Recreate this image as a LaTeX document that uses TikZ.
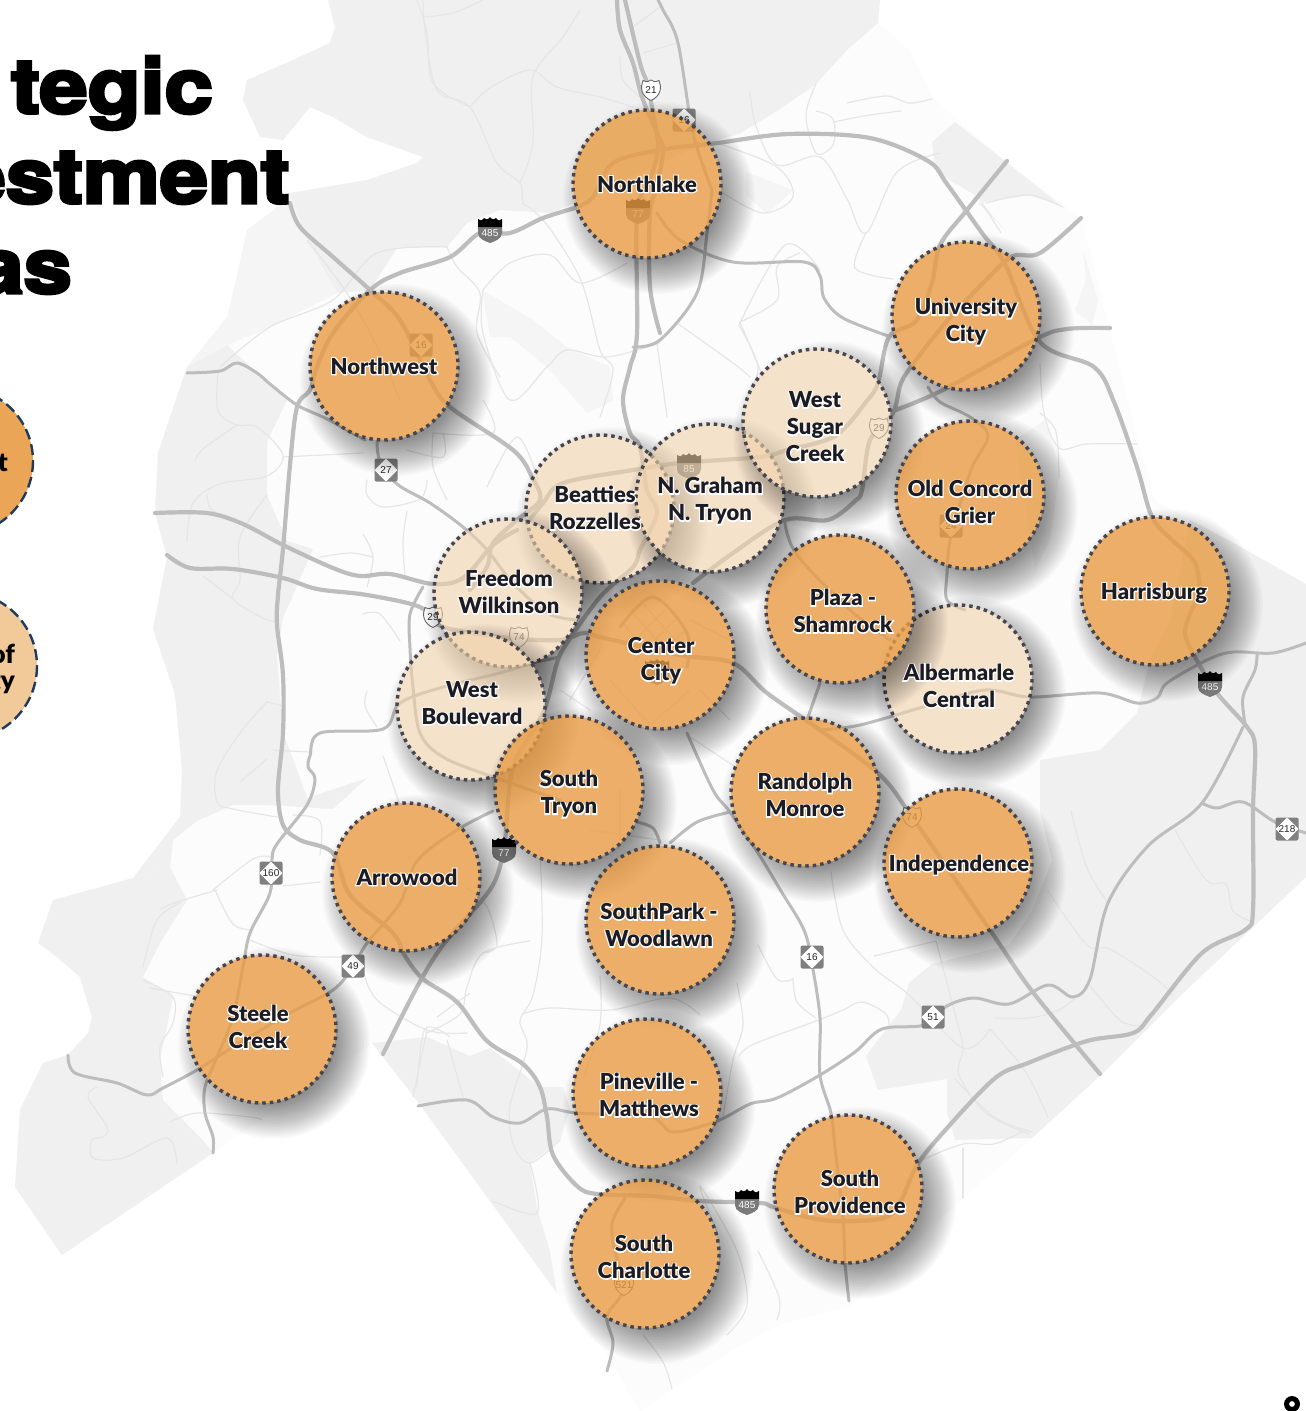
\documentclass[tikz,border=0pt]{standalone}
\usepackage{fontspec}
\setmainfont{Liberation Sans}
\newfontfamily\halofont{Lato Black}[FakeBold=10]
\newfontfamily\labbold{Lato Black}
\newfontfamily\titlefont{TeX Gyre Heros}[UprightFont=* Bold,FakeBold=4.5,FakeStretch=1.14]
\newfontfamily\shieldfont{Liberation Sans}
\definecolor{countyfill}{HTML}{FCFCFC}
\definecolor{graya}{HTML}{F0F0F0}
\definecolor{grayb}{HTML}{F5F5F5}
\definecolor{roadmajor}{HTML}{BDBDBD}
\definecolor{roadminor}{HTML}{E6E6E6}
\definecolor{orangefill}{HTML}{E89B43}
\definecolor{palefill}{HTML}{F0D1AA}
\definecolor{dotcol}{HTML}{45454F}
\definecolor{navy}{HTML}{1E3A5F}
\definecolor{labcol}{HTML}{1C1C24}
\tikzset{
  major/.style={draw=roadmajor,line width=4.2pt,line cap=round,line join=round},
  medium/.style={draw=roadmajor,line width=3pt,line cap=round,line join=round},
  minor/.style={draw=roadminor,line width=1.2pt,line cap=round,line join=round},
  grayarea/.style={fill=graya,draw=none},
  lightarea/.style={fill=grayb,draw=none},
  solidarea/.style={fill=orangefill,fill opacity=.8},
  palearea/.style={fill=palefill,fill opacity=.6},
  dotring/.style={draw=dotcol,line width=3.4pt,dash pattern=on 3.5pt off 4pt},
  halolab/.style={align=center,text=white,inner sep=0pt,font=\halofont\fontsize{22}{27}\selectfont},
  toplab/.style={align=center,text=labcol,inner sep=0pt,font=\labbold\fontsize{22}{27}\selectfont},
  titletext/.style={text=black,inner sep=0pt,anchor=base east,font=\titlefont\fontsize{76}{76}\selectfont},
  shieldtext/.style={inner sep=0pt,font=\shieldfont\fontsize{10}{10}\selectfont}
}
\newcommand\rmaj[1]{\draw[major] plot[smooth,tension=.55] coordinates {#1};}
\newcommand\rmed[1]{\draw[medium] plot[smooth,tension=.55] coordinates {#1};}
\newcommand\rmin[1]{\draw[minor] plot[smooth,tension=.55] coordinates {#1};}
% interstate shield: name,x,y,number
\newcommand\ishield[4]{\begin{scope}[shift={(#2,#3)}]
  \fill[fill=black!52] (-12,-3) -- (12,-3) -- (12,3) .. controls (12,9) and (5,11) .. (0,13) .. controls (-5,11) and (-12,9) .. (-12,3) -- cycle;
  \fill[black] (-12,-3) -- (-12,-11) .. controls (-10,-9) and (-8,-9) .. (-6,-12) .. controls (-5,-10) and (-2,-10) .. (0,-13) .. controls (2,-10) and (5,-10) .. (6,-12) .. controls (8,-9) and (10,-9) .. (12,-11) -- (12,-3) -- cycle;
  \node[shieldtext,text=white] (#1) at (0,3) {#4};
\end{scope}}
% state diamond shield
\newcommand\nshield[4]{\begin{scope}[shift={(#2,#3)}]
  \fill[fill=black!50,rounded corners=2pt] (-11.5,-11.5) rectangle (11.5,11.5);
  \fill[white,rounded corners=1pt] (0,-11.5) -- (11.5,0) -- (0,11.5) -- (-11.5,0) -- cycle;
  \node[shieldtext,text=black!85] (#1) at (0,0) {#4};
\end{scope}}
% US shield
\newcommand\ushield[4]{\begin{scope}[shift={(#2,#3)}]
  \filldraw[fill=white,draw=black!60,line width=.9pt] (-8,-9.5) .. controls (-4,-7.5) and (-2,-8.5) .. (0,-10) .. controls (2,-8.5) and (4,-7.5) .. (8,-9.5) .. controls (11,-3) and (10,6) .. (0,10.5) .. controls (-10,6) and (-11,-3) .. (-8,-9.5) -- cycle;
  \node[shieldtext,text=black!85] (#1) at (0,0) {#4};
\end{scope}}
% area circle with shadow: name,x,y,style
\newcommand\areacircle[4]{
  \begin{scope}[even odd rule]
    \clip (-200,-200) rectangle (1500,1600) (#2,#3) circle (74);
    \foreach \k in {0,...,25} {
      \fill[black,fill opacity=.02,nonzero rule] ({#2+12},{#3+14}) circle ({96-1.5*\k});
    }
  \end{scope}
  \fill[#4] (#2,#3) circle (74);
  \draw[dotring] (#2,#3) circle (74);
  \coordinate (#1) at (#2,#3);
}
\newcommand\arealabel[4]{
  \node[halolab] (#1h) at (#2,#3) {#4};
  \node[toplab] (#1t) at (#2,#3) {#4};
}
\begin{document}
\begin{tikzpicture}[x=1pt,y=-1pt]
\useasboundingbox (0,0) rectangle (1306,1411);
\begin{scope}
\clip (0,0) rectangle (1306,1411);
\fill[white] (0,0) rectangle (1306,1411);
% county
\fill[countyfill] (328,0) -- (880,0) -- (878,23) -- (909,50) -- (932,97) -- (1005,161) -- (1081,218) -- (1110,332) -- (1154,500) -- (1230,541) -- (1306,584) -- (1306,877) -- (1179,997) -- (1102,1074) -- (1032,1138) -- (947,1213) -- (849,1306) -- (777,1325) -- (730,1352) -- (670,1390) -- (640,1411) -- (607,1354) -- (557,1293) -- (490,1201) -- (415,1098) -- (372,1043) -- (213,1153) -- (62,1255) -- (15,1187) -- (20,1110) -- (43,1063) -- (68,1055) -- (88,1033) -- (92,1017) -- (80,977) -- (57,957) -- (38,943) -- (47,917) -- (53,900) -- (133,878) -- (180,817) -- (182,771) -- (175,694) -- (153,629) -- (167,557) -- (155,513) -- (158,453) -- (187,367) -- (227,317) -- (233,293) -- (247,230) -- (270,213) -- (290,193) -- (367,180) -- (417,163) -- (423,157) -- (367,137) -- (333,117) -- (310,107) -- (283,140) -- (260,137) -- (243,100) -- (247,80) -- (293,60) -- (330,43) -- (335,27) -- cycle;
% north lake-side gray
\fill[grayarea] (328,0) -- (880,0) -- (878,23) -- (847,50) -- (816,84) -- (777,111) -- (739,134) -- (700,145) -- (570,205) -- (550,213) -- (500,210) -- (467,223) -- (447,247) -- (397,248) -- (370,290) -- (337,293) -- (307,240) -- (293,203) -- (290,193) -- (367,180) -- (417,163) -- (423,157) -- (367,137) -- (333,117) -- (310,107) -- (283,140) -- (260,137) -- (243,100) -- (247,80) -- (293,60) -- (330,43) -- (335,27) -- cycle;
% west gray
\fill[grayarea] (187,367) -- (227,345) -- (287,400) -- (267,442) -- (267,495) -- (287,541) -- (313,549) -- (283,618) -- (277,656) -- (283,733) -- (293,759) -- (307,798) -- (367,778) -- (333,809) -- (267,805) -- (233,805) -- (197,821) -- (173,840) -- (170,867) -- (133,878) -- (180,817) -- (182,771) -- (175,694) -- (153,629) -- (167,557) -- (155,513) -- (158,453) -- cycle;
\fill[lightarea] (187,367) -- (227,317) -- (233,293) -- (247,230) -- (270,213) -- (290,193) -- (307,240) -- (337,293) -- (270,327) -- (227,345) -- cycle;
% south-west gray
\fill[grayarea] (53,900) -- (133,878) -- (170,867) -- (187,900) -- (160,943) -- (143,977) -- (173,997) -- (160,1060) -- (163,1100) -- (203,1140) -- (213,1153) -- (62,1255) -- (15,1187) -- (20,1110) -- (43,1063) -- (68,1055) -- (88,1033) -- (92,1017) -- (80,977) -- (57,957) -- (38,943) -- (47,917) -- cycle;
% east gray
\fill[grayarea] (1190,520) -- (1230,541) -- (1306,584) -- (1306,877) -- (1179,997) -- (1102,1074) -- (1032,1138) -- (955,1140) -- (947,1113) -- (947,1079) -- (878,1090) -- (866,1056) -- (901,1010) -- (909,983) -- (932,964) -- (1009,945) -- (1032,911) -- (1052,861) -- (1040,811) -- (1040,760) -- (1100,750) -- (1137,713) -- (1150,660) -- (1170,620) -- cycle;
% south gray
\fill[grayarea] (372,1043) -- (427,1037) -- (470,1056) -- (490,1048) -- (540,1087) -- (563,1087) -- (570,1109) -- (560,1140) -- (530,1163) -- (537,1209) -- (550,1251) -- (557,1293) -- (490,1201) -- (415,1098) -- cycle;
% patches
\fill[grayarea] (936,172) -- (932,142) -- (955,122) -- (1005,161) -- (1063,207) -- (1029,195) -- (978,203) -- (1005,230) -- (975,195) -- cycle;
\fill[grayb] (482,290) -- (533,320) -- (567,347) -- (610,367) -- (613,400) -- (587,413) -- (547,367) -- (510,337) -- (490,337) -- cycle;
\fill[grayb] (746,172) -- (793,190) -- (767,214) -- (746,195) -- cycle;
\fill[grayb] (1083,250) -- (1098,300) -- (1092,325) -- (1075,310) -- (1086,280) -- cycle;
\fill[grayb] (1015,440) -- (1045,420) -- (1060,470) -- (1050,540) -- (1035,570) -- cycle;
% minor roads
\rmin{(423,0) (425,30) (437,90) (470,107) (497,163) (520,183) (523,203) (533,210) (553,233) (582,283) (600,350) (613,370) (600,417)}
\rmin{(470,107) (490,88) (530,70) (557,87) (600,97) (633,107)}
\rmin{(580,10) (563,37) (533,77) (533,143) (520,183)}
\rmin{(423,17) (453,13) (483,0)}
\rmin{(620,57) (623,80) (640,97)}
\rmin{(643,53) (677,43)}
\rmin{(633,27) (660,7)}
\rmin{(483,290) (510,263) (550,255) (580,283) (627,263)}
\rmin{(483,290) (483,333) (510,400) (547,367) (567,350) (607,357) (660,343)}
\rmin{(677,323) (733,363) (750,377)}
\rmin{(657,343) (667,417)}
\rmin{(740,322) (777,300) (777,267) (800,253)}
\rmin{(740,322) (763,377)}
\rmin{(717,143) (777,167) (793,197) (763,213) (723,193)}
\rmin{(750,92) (756,126) (777,165) (820,157) (847,199) (866,233) (897,172) (940,153)}
\rmin{(866,233) (855,268) (893,279)}
\rmin{(739,325) (785,245) (820,270)}
\rmin{(739,325) (758,367) (745,400)}
\rmin{(816,84) (806,115) (816,153) (833,145) (833,119) (816,111)}
\rmin{(847,103) (886,96) (909,103) (932,99)}
\rmin{(833,122) (870,115) (901,111)}
\rmin{(986,203) (1029,195) (1063,207)}
\rmin{(982,203) (1001,233)}
\rmin{(1040,364) (1044,413) (1059,448) (1087,444) (1137,444)}
\rmin{(1040,413) (1056,432) (1059,478)}
\rmin{(831,872) (843,930) (874,968) (909,995) (963,1048) (990,1029)}
\rmin{(990,1029) (1025,1071) (1048,1117)}
\rmin{(874,956) (936,941)}
\rmin{(936,941) (955,1014) (963,1048) (959,1075) (986,1113) (1029,1134)}
\rmin{(1071,811) (1087,868) (1108,903)}
\rmin{(1175,830) (1206,880) (1226,884) (1233,911) (1253,922)}
\rmin{(1048,891) (1087,945) (1110,949) (1156,979) (1172,995)}
\rmin{(1088,983) (1121,1021) (1145,1025)}
\rmin{(955,1079) (994,1117) (1032,1132)}
\rmin{(994,1018) (1028,1018) (1059,1010) (1083,991)}
\rmin{(963,1148) (963,1198)}
\rmin{(924,1159) (963,1144) (994,1144) (1021,1132)}
\rmin{(739,1056) (754,1044) (816,1021) (843,1010) (862,1002) (886,1014) (889,1029)}
\rmin{(793,979) (797,1002) (816,1018)}
\rmin{(758,945) (777,979) (793,979)}
\rmin{(777,1320) (779,1297) (758,1251)}
\rmin{(523,1014) (550,1008) (610,1010) (670,998) (700,1015)}
\rmin{(600,976) (600,1025) (583,1079)}
\rmin{(540,849) (542,937) (533,995) (520,1021) (527,1048) (510,1106) (513,1144) (530,1163) (560,1140)}
\rmin{(530,941) (483,953) (467,987) (460,1014) (427,1033)}
\rmin{(417,1087) (425,1029) (450,1037)}
\rmin{(483,953) (497,945) (487,907) (467,888)}
\rmin{(530,1163) (537,1213) (493,1201)}
\rmin{(737,983) (743,1025) (733,1060) (723,1117)}
\rmin{(727,1335) (747,1305) (737,1251) (700,1186) (717,1232)}
\rmin{(643,1335) (663,1362) (672,1389)}
\rmin{(218,373) (218,411) (237,425) (257,427) (283,455) (267,476) (220,484) (193,503) (187,541)}
\rmin{(283,457) (363,453)}
\rmin{(237,425) (203,449) (195,461)}
\rmin{(207,495) (213,511) (247,526)}
\rmin{(267,495) (240,537) (240,580) (233,599) (263,618) (277,622)}
\rmin{(203,576) (233,599)}
\rmin{(367,480) (367,495) (383,507) (420,499) (427,480)}
\rmin{(363,534) (373,557) (367,587)}
\rmin{(407,511) (403,541) (405,576)}
\rmin{(320,557) (350,553) (373,557)}
\rmin{(363,614) (380,614) (400,641)}
\rmin{(367,691) (365,706) (377,727)}
\rmin{(267,702) (240,733) (217,771) (217,802) (233,809) (277,817)}
\rmin{(240,782) (267,759)}
\rmin{(273,750) (310,752)}
\rmin{(267,702) (283,706)}
\rmin{(293,815) (320,821) (320,855)}
\rmin{(383,756) (400,805)}
\rmin{(213,890) (253,859) (272,857)}
\rmin{(215,890) (233,924) (253,930)}
\rmin{(160,909) (180,901) (217,890)}
\rmin{(283,886) (320,882)}
\rmin{(143,967) (157,920) (180,903)}
\rmin{(143,980) (173,997) (173,1023) (160,1047) (163,1077)}
\rmin{(150,988) (200,997)}
\rmin{(97,1087) (88,1097) (107,1127) (103,1137) (92,1140) (93,1158) (123,1158) (167,1138) (177,1163)}
\rmin{(170,1122) (197,1113) (250,1117) (262,1120)}
\rmin{(250,940) (293,955) (343,957)}
\rmin{(363,970) (377,1000) (427,1030) (467,1033)}
\rmin{(427,1030) (413,1097)}
\rmin{(447,1040) (463,1097)}
\rmin{(470,993) (437,1017)}
\rmin{(220,367) (270,327) (333,300) (377,253) (447,247)}
\rmin{(307,240) (347,293) (377,347) (400,400)}
\rmin{(447,247) (457,267) (480,293) (477,333) (500,377)}
\rmin{(417,0) (427,33) (433,83) (470,107)}
\rmin{(433,433) (493,433) (483,400)}
\rmin{(433,433) (433,467) (447,500)}
\rmin{(443,433) (443,457) (407,450)}
\rmin{(487,487) (517,437) (538,480)}
% centre-city street grid
\rmin{(640,600) (675,640)} \rmin{(630,610) (665,650)} \rmin{(620,620) (655,660)}
\rmin{(625,650) (665,610)} \rmin{(635,660) (675,620)} \rmin{(645,670) (685,630)}
\rmin{(610,680) (650,725)} \rmin{(690,690) (650,725)} \rmin{(740,770) (690,737)}
\rmin{(600,650) (570,700)} \rmin{(700,690) (730,720)}
\rmin{(560,690) (590,710)} \rmin{(690,620) (730,640)}
\rmin{(620,790) (620,840)} \rmin{(590,830) (660,840)}
% major roads
\rmaj{(575,208) (543,218) (510,233) (480,233) (450,257) (400,273) (370,290) (333,333) (317,367) (310,390) (297,407) (290,465) (283,549) (278,595) (277,625) (283,675) (283,733) (278,790) (283,825) (300,840) (333,853) (350,895) (393,933) (405,956) (423,979) (457,1002) (487,1041) (523,1064) (540,1087) (547,1117) (553,1155) (577,1186) (597,1194) (650,1196) (700,1201) (760,1203) (773,1207) (816,1219) (855,1221) (893,1213) (916,1167) (940,1136) (994,1079) (1028,1063) (1087,1041) (1133,1033) (1152,1014) (1202,953) (1245,930) (1253,910) (1253,811) (1255,747) (1247,727) (1217,693) (1195,657) (1185,633) (1193,607) (1200,597) (1195,563) (1172,540) (1152,517) (1137,467) (1114,402) (1094,367) (1040,342) (1005,264) (982,233) (947,184) (928,161) (870,138) (789,134) (717,143) (660,150) (613,163) (593,197) (575,208)}
\rmaj{(617,0) (620,30) (633,63) (642,97) (657,133) (663,150) (657,187) (650,213) (650,287) (660,333)}
\rmaj{(625,0) (640,63) (647,83) (653,113) (658,147) (650,180) (637,213) (637,333) (630,367) (623,400) (630,433) (640,447) (647,490) (657,513) (640,550) (633,567) (600,597) (567,643) (557,663) (543,713) (513,767) (505,840) (497,876) (483,899) (443,945) (417,987) (383,1054)}
\rmaj{(527,523) (543,503) (563,483) (633,470) (680,463) (760,457) (787,450) (835,436) (866,402) (878,383) (889,337) (916,321) (932,283) (940,245) (967,210) (1007,161)}
\rmaj{(1081,218) (1040,253) (1013,256) (990,276) (947,321) (916,360) (901,383) (893,413) (870,440) (862,490) (855,501) (828,520) (785,520) (733,553) (693,583)}
\rmaj{(893,411) (943,390) (1036,339) (1067,329) (1110,328)}
\rmed{(928,387) (940,402) (970,417) (988,436) (971,470) (951,536) (947,574) (947,600) (965,610)}
\rmed{(820,730) (860,725) (930,705) (985,690) (1030,697) (1100,693) (1137,703) (1157,698) (1167,683) (1207,660) (1233,652) (1273,653) (1306,643)}
\rmed{(657,213) (680,240) (733,262) (804,262) (820,276) (824,298) (843,318) (891,337)}
\rmed{(712,190) (693,133) (678,43) (663,10) (658,0)}
\rmed{(712,190) (707,233) (697,293) (660,340) (633,347)}
\rmaj{(290,203) (300,227) (333,257) (370,290) (400,320) (430,380) (450,407) (513,450) (532,477) (540,500) (517,520) (493,543) (487,567) (470,590)}
\rmaj{(155,513) (207,513) (243,524) (283,545) (333,568) (360,576) (390,574) (433,584) (463,578) (493,545) (517,530)}
\rmaj{(167,555) (190,568) (233,569) (283,578) (317,589) (367,595) (420,607) (443,627) (510,638) (560,640) (583,633) (600,637) (680,655) (733,663) (767,693) (820,730) (880,775) (912,817) (990,930) (1032,991) (1100,1074)}
\rmed{(187,373) (220,371) (237,363) (257,373) (270,384) (297,405) (327,419) (365,440)}
\rmed{(377,442) (380,461) (397,484) (430,503) (463,527) (487,550) (513,583) (547,613) (577,620)}
\rmed{(423,587) (410,614) (410,648) (413,687) (420,733) (443,757) (493,777) (560,800)}
\rmed{(560,657) (533,663) (500,673) (443,687) (400,703) (383,729) (320,733) (310,756) (308,767) (315,779) (307,805) (277,844) (272,859) (270,893) (250,933) (243,967) (233,1017) (217,1057) (205,1087) (205,1113) (213,1137) (213,1153)}
\rmed{(68,1055) (75,1073) (117,1083) (147,1095) (163,1088) (197,1070) (233,1047) (290,1013) (333,990) (353,967) (367,943) (400,903) (417,861) (457,830) (493,811)}
\rmed{(637,822) (653,828) (660,843)}
\rmed{(418,1106) (467,1100) (493,1117) (520,1123) (547,1109) (577,1113) (650,1117) (673,1132) (717,1121) (750,1104) (777,1098) (820,1075) (855,1052) (882,1029) (924,1025) (947,1006) (974,998) (1009,1004) (1048,985) (1073,997) (1090,979) (1108,903) (1148,846) (1202,803) (1243,727)}
\rmed{(1202,803) (1217,808) (1243,802) (1275,822) (1306,833)}
\rmed{(1257,655) (1255,670) (1243,697) (1245,723)}
\rmed{(687,733) (713,790) (730,812) (758,853) (781,891) (804,930) (812,964) (820,1018) (820,1075) (831,1113) (835,1148) (843,1217) (845,1263) (849,1301)}
\rmed{(730,812) (697,822) (670,843)}
\rmed{(625,1198) (613,1220) (613,1243) (623,1289) (607,1316) (613,1343) (607,1371)}
\rmed{(785,523) (797,555) (850,610) (890,640)}
\rmed{(820,683) (807,720)}
\rmed{(620,627) (653,597) (687,633) (687,667)}
% shields
\ishield{s485a}{490}{230}{485}
\ishield{s485b}{1210}{684}{485}
\ishield{s485c}{747}{1202}{485}
\ishield{s77a}{504}{850}{77}
\ishield{s77b}{638}{211}{77}
\ishield{s85}{689}{466}{85}
\ishield{s77c}{657}{672}{}
\ushield{u21}{651}{90}{21}
\ushield{u29a}{433}{617}{29}
\ushield{u74a}{519}{637}{74}
\ushield{u29b}{879}{428}{29}
\ushield{u74b}{912}{817}{74}
\ushield{u521}{624}{1285}{521}
\nshield{n27}{386}{470}{27}
\nshield{n160}{271}{873}{160}
\nshield{n49}{353}{966}{49}
\nshield{n16a}{812}{957}{16}
\nshield{n51}{933}{1017}{51}
\nshield{n218}{1287}{829}{218}
\nshield{n16b}{421}{345}{16}
\nshield{n16c}{684}{120}{16}
\nshield{n24}{951}{526}{24}
% circles, pale first
\areacircle{cBea}{600}{509}{palearea}
\areacircle{cGra}{710}{498}{palearea}
\areacircle{cSug}{817}{423}{palearea}
\areacircle{cFre}{508}{593}{palearea}
\areacircle{cBou}{471}{706}{palearea}
\areacircle{cAlb}{958}{679}{palearea}
\areacircle{cNla}{647}{184}{solidarea}
\areacircle{cNwe}{384}{366}{solidarea}
\areacircle{cUni}{966}{316}{solidarea}
\areacircle{cOld}{970}{495}{solidarea}
\areacircle{cHar}{1155}{591}{solidarea}
\areacircle{cCen}{660}{655}{solidarea}
\areacircle{cPla}{840}{609}{solidarea}
\areacircle{cTry}{569}{790}{solidarea}
\areacircle{cRan}{805}{792}{solidarea}
\areacircle{cInd}{958}{863}{solidarea}
\areacircle{cArr}{406}{877}{solidarea}
\areacircle{cSou}{660}{920}{solidarea}
\areacircle{cSte}{262}{1029}{solidarea}
\areacircle{cPin}{647}{1093}{solidarea}
\areacircle{cPro}{848}{1189}{solidarea}
\areacircle{cCha}{645}{1254}{solidarea}
% legend circles, cut by the page edge
\fill[fill=orangefill!90!white] (-41,461) circle (74);
\draw[navy,line width=2.4pt,dash pattern=on 11pt off 5pt] (-41,461) circle (74);
\fill[fill=palefill!90!orange] (-37,666) circle (74);
\draw[navy,line width=2.4pt,dash pattern=on 11pt off 5pt] (-37,666) circle (74);
\node[anchor=base east,inner sep=0pt,font=\labbold\fontsize{26}{26}\selectfont] (legA) at (8,471) {t};
\node[anchor=base east,inner sep=0pt,font=\labbold\fontsize{26}{26}\selectfont] (legB) at (15,663) {of};
\node[anchor=base east,inner sep=0pt,font=\labbold\fontsize{26}{26}\selectfont] (legC) at (15,689) {ty};
% labels
\arealabel{lNla}{647}{184}{Northlake}
\arealabel{lNwe}{384}{366}{Northwest}
\arealabel{lUni}{966}{322}{University\\City}
\arealabel{lSug}{815}{427}{West\\Sugar\\Creek}
\arealabel{lGra}{710}{501}{N. Graham\\N. Tryon}
\arealabel{lBea}{595}{508}{Beatties\\Rozzelles}
\arealabel{lOld}{970}{502}{Old Concord\\Grier}
\arealabel{lHar}{1154}{593}{Harrisburg}
\arealabel{lFre}{509}{592}{Freedom\\Wilkinson}
\arealabel{lCen}{661}{661}{Center\\City}
\arealabel{lPla}{843}{611}{Plaza -\\Shamrock}
\arealabel{lAlb}{959}{686}{Albermarle\\Central}
\arealabel{lBou}{472}{703}{West\\Boulevard}
\arealabel{lTry}{569}{794}{South\\Tryon}
\arealabel{lRan}{805}{795}{Randolph\\Monroe}
\arealabel{lInd}{959}{865}{Independence}
\arealabel{lArr}{407}{877}{Arrowood}
\arealabel{lSou}{659}{925}{SouthPark -\\Woodlawn}
\arealabel{lSte}{258}{1027}{Steele\\Creek}
\arealabel{lPin}{649}{1095}{Pineville -\\Matthews}
\arealabel{lPro}{850}{1192}{South\\Providence}
\arealabel{lCha}{644}{1257}{South\\Charlotte}
% title
\node[titletext] (t1) at (213,113) {tegic};
\node[titletext] (t2) at (290,203) {estment};
\node[titletext] (t3) at (72,293) {as};
% ring mark at the corner
\fill[black,even odd rule] (1292,1404) circle (8) (1292,1404) circle (3);
\end{scope}
\end{tikzpicture}
\end{document}
